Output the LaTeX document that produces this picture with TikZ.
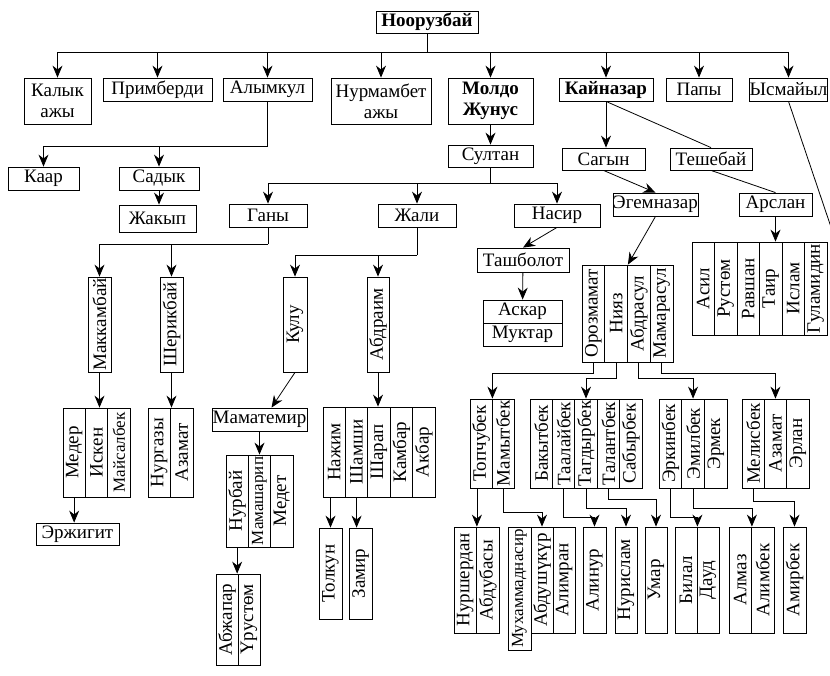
\documentclass[tikz,border=0pt]{standalone}
\usepackage{fontspec}
\setmainfont{Liberation Serif}
\usetikzlibrary{arrows.meta}
\newcommand\smf{\fontsize{17}{19}\selectfont}

\begin{document}
\begin{tikzpicture}[x=1pt, y=-1pt, font=\fontsize{19}{21}\selectfont, line width=0.8pt,
  nm/.style={draw, inner sep=0pt, minimum height=23pt, align=center},
  bnm/.style={nm, font=\fontsize{19}{21}\selectfont\bfseries},
  vc/.style={draw, inner sep=0pt, rotate=90},
  arr/.style={-{Stealth[length=12pt, width=10pt]}}]
\useasboundingbox (0,0) rectangle (830,675);

% top rows
\node[bnm, minimum width=102pt, minimum height=22pt] (root) at (427,22) {Ноорузбай};
\node[nm, minimum width=67pt, minimum height=46pt] (kalyk) at (57.5,101) {Калык\\ажы};
\node[nm, minimum width=109pt] (primberdi) at (157.5,89.5) {Примберди};
\node[nm, minimum width=89pt] (alymkul) at (267.5,89.5) {Алымкул};
\node[nm, minimum width=100pt, minimum height=46pt] (nurmambet) at (381,101) {Нурмамбет\\ажы};
\node[bnm, minimum width=85pt, minimum height=46pt] (moldo) at (490.5,101) {Молдо\\Жунус};
\node[bnm, minimum width=94pt] (kaynazar) at (606,89.5) {Кайназар};
\node[nm, minimum width=66pt] (papy) at (699,89.5) {Папы};
\node[nm, minimum width=77pt] (ysmayil) at (788.5,89.5) {Ысмайыл};
\coordinate (ysend) at (833,233);

\node[nm, minimum width=71pt] (kaar) at (43.5,178.5) {Каар};
\node[nm, minimum width=80pt] (sadyk) at (159,178.5) {Садык};
\node[nm, minimum width=77pt, minimum height=27pt] (zhakyp) at (157.5,218.5) {Жакып};
\node[nm, minimum width=85pt, minimum height=22pt] (sultan) at (490.5,156) {Султан};
\node[nm, minimum width=78pt] (gany) at (268,215.5) {Ганы};
\node[nm, minimum width=78pt] (zhali) at (417,215.5) {Жали};
\node[nm, minimum width=86pt] (nasir) at (557,215.5) {Насир};
\node[nm, minimum width=83pt, minimum height=22pt] (sagyn) at (603.5,159) {Сагын};
\node[nm, minimum width=82pt, minimum height=22pt] (teshebay) at (711,159) {Тешебай};
\node[nm, minimum width=85pt] (egemnazar) at (655.5,204.5) {Эгемназар};
\node[nm, minimum width=73pt] (arslan) at (775.5,204.5) {Арслан};
\node[nm, minimum width=92pt, minimum height=24pt] (tashbolot) at (523,260) {Ташболот};
\node[nm, minimum width=79pt] (askar) at (522.5,311.5) {Аскар};
\node[nm, minimum width=79pt] (muktar) at (522.5,334.5) {Муктар};
\node[nm, minimum width=95pt] (mamatemir) at (259.5,419.5) {Маматемир};
\node[nm, minimum width=83pt, minimum height=22pt] (erzhigit) at (77.5,534) {Эржигит};

% vertical cells
\node[vc, minimum width=95pt, minimum height=23pt] (makkambay) at (99.5,324.5) {Маккамбай};
\node[vc, minimum width=95pt, minimum height=23pt] (sherikbay) at (171.5,324.5) {Шерикбай};
\node[vc, minimum width=95pt, minimum height=24pt] (kulu) at (295,324.5) {Кулу};
\node[vc, minimum width=95pt, minimum height=22pt] (abdraim) at (378,324.5) {Абдраим};

\foreach \t [count=\i] in {Медер,Искен,{\smf Майсалбек}}
  \node[vc, minimum width=89pt, minimum height=22.3pt] (md\i) at ({63+22.3*(\i-0.5)},452.5) {\t};
\foreach \t [count=\i] in {Нургазы,Азамат}
  \node[vc, minimum width=89pt, minimum height=22.5pt] (ng\i) at ({148+22.5*(\i-0.5)},452.5) {\t};
\foreach \t [count=\i] in {Нажим,Шамши,Шарап,Камбар,Акбар}
  \node[vc, minimum width=90pt, minimum height=22.4pt] (nz\i) at ({323+22.4*(\i-0.5)},452) {\t};
\foreach \t [count=\i] in {Нурбай,{\smf Мамашарип},Медет}
  \node[vc, minimum width=92pt, minimum height=22.3pt] (nb\i) at ({226+22.3*(\i-0.5)},501) {\t};
\foreach \t [count=\i] in {Абжапар,Үрустөм}
  \node[vc, minimum width=91pt, minimum height=22pt] (aj\i) at ({216+22*(\i-0.5)},619.5) {\t};
\node[vc, minimum width=91pt, minimum height=23pt] (tolkun) at (330.5,573.5) {Толкун};
\node[vc, minimum width=91pt, minimum height=23pt] (zamir) at (360.5,573.5) {Замир};

\foreach \t [count=\i] in {Асил,Рустөм,Равшан,Таир,Ислам,Гуламидин}
  \node[vc, minimum width=93pt, minimum height=22.5pt] (as\i) at ({692+22.5*(\i-0.5)},288.5) {\t};
\foreach \t [count=\i] in {Орозмамат,Нияз,Абдрасул,Мамарасул}
  \node[vc, minimum width=97pt, minimum height=22.75pt] (oz\i) at ({582+22.75*(\i-0.5)},313.5) {\t};

\foreach \t [count=\i] in {Топчубек,Мамытбек}
  \node[vc, minimum width=89pt, minimum height=22pt] (tp\i) at ({470+22*(\i-0.5)},443.5) {\t};
\foreach \t [count=\i] in {Бакытбек,Таалайбек,Тагдырбек,Талантбек,Сабырбек}
  \node[vc, minimum width=89pt, minimum height=22.4pt] (bk\i) at ({530+22.4*(\i-0.5)},443.5) {\t};
\foreach \t [count=\i] in {Эркинбек,Эмилбек,Эрмек}
  \node[vc, minimum width=89pt, minimum height=22.7pt] (er\i) at ({659+22.7*(\i-0.5)},443.5) {\t};
\foreach \t [count=\i] in {Мелисбек,Азамат,Эрлан}
  \node[vc, minimum width=89pt, minimum height=22.3pt] (ml\i) at ({742+22.3*(\i-0.5)},443.5) {\t};

\foreach \t [count=\i] in {Нуршердан,Абдубасы}
  \node[vc, minimum width=106pt, minimum height=22.5pt] (ns\i) at ({454+22.5*(\i-0.5)},580) {\t};
\node[vc, minimum width=123pt, minimum height=23pt] (mukh) at (519.5,588.5) {\smf Мухаммаднасир};
\foreach \t [count=\i] in {Абдушүкүр,Алимран}
  \node[vc, minimum width=106pt, minimum height=22pt] (ab\i) at ({531+22*(\i-0.5)},580) {\t};
\node[vc, minimum width=106pt, minimum height=23pt] (alinur) at (594.5,580) {Алинур};
\node[vc, minimum width=106pt, minimum height=22pt] (nurislam) at (626,580) {Нурислам};
\node[vc, minimum width=106pt, minimum height=22pt] (umar) at (656,580) {Умар};
\foreach \t [count=\i] in {Билал,Дауд}
  \node[vc, minimum width=106pt, minimum height=22pt] (bd\i) at ({675+22*(\i-0.5)},580) {\t};
\foreach \t [count=\i] in {Алмаз,Алимбек}
  \node[vc, minimum width=106pt, minimum height=22.5pt] (am\i) at ({729+22.5*(\i-0.5)},580) {\t};
\node[vc, minimum width=106pt, minimum height=23pt] (amirbek) at (794.5,580) {Амирбек};

% connectors
\draw (root.south) -- ++(0,19) coordinate (rootbar);
\foreach \c in {kalyk,primberdi,alymkul,nurmambet,moldo,kaynazar,papy,ysmayil}
  \draw[arr] (rootbar) -| (\c.north);

\draw (alymkul.south) -- ++(0,45) coordinate (alyb);
\draw[arr] (alyb) -| (kaar.north);
\draw[arr] (alyb) -| (sadyk.north);
\draw[arr] (sadyk) -- (sadyk.south |- zhakyp.north);

\draw[arr] (moldo) -- (sultan);
\draw (sultan.south) -- ++(0,16) coordinate (sulb);
\foreach \c in {gany,zhali,nasir}
  \draw[arr] (sulb) -| (\c.north);

\draw (gany.south) -- ++(0,17) coordinate (ganb);
\draw[arr] (ganb) -| (makkambay.east);
\draw[arr] (ganb) -| (sherikbay.east);
\draw (zhali.south) -- ++(0,28) coordinate (zhab);
\draw[arr] (zhab) -| (kulu.east);
\draw[arr] (zhab) -| (abdraim.east);

\draw[arr] (makkambay.west) -- (makkambay.west |- md1.east);
\draw[arr] (sherikbay.west) -- (sherikbay.west |- ng1.east);
\draw[arr] (md1.west) -- (md1.west |- erzhigit.north);
\draw[arr] (kulu.west) -- ([xshift=12pt]mamatemir.north);
\draw[arr] (abdraim.west) -- (abdraim.west |- nz3.east);
\draw[arr] (mamatemir.south) -- (mamatemir.south |- nb2.east);
\draw[arr] (nb1.west) -- (nb1.west |- aj1.east);
\draw[arr] (tolkun.east |- nz1.west) -- (tolkun.east);
\draw[arr] (nz2.west) -- (nz2.west |- zamir.east);

\draw[arr] (nasir.south) -- (tashbolot.north);
\draw[arr] (tashbolot) -- (askar);

\draw[arr] (kaynazar.south) -- (kaynazar.south |- sagyn.north);
\draw (kaynazar.south) -- (teshebay.north);
\draw[arr] (sagyn.south) -- (egemnazar.north);
\draw (teshebay.south) -- (arslan.north);
\draw[arr] (arslan.south) -- (arslan.south |- as1.east);
\draw (ysmayil.south) -- (ysend);

\draw[arr] (egemnazar.south) -- (oz2.south east);
\draw[arr] (oz1.west) -- ++(0,11) -| (tp1.south east);
\draw[arr] (oz2.west) -- ++(0,16) -| (bk3.east);
\draw[arr] (oz3.west) -- ++(0,16) -| (er2.east);
\draw[arr] (oz4.west) -- ++(0,11) -| (ml2.east);

\draw[arr] (ns1.south east |- tp1.west) -- (ns1.south east);
\draw[arr] (tp2.west) -- ++(0,24) -| (ab1.east);
\draw[arr] (bk2.west) -- ++(0,29) -| (alinur.east);
\draw[arr] (bk3.west) -- ++(0,20) -| (nurislam.east);
\draw[arr] (bk4.west) -- ++(0,11) -| (umar.east);
\draw[arr] (er1.west) -- ++(0,29) -| (bd1.south east);
\draw[arr] (er2.west) -- ++(0,20) -| (am1.south east);
\draw[arr] (ml1.west) -- ++(0,13) -| (amirbek.east);
\end{tikzpicture}
\end{document}
